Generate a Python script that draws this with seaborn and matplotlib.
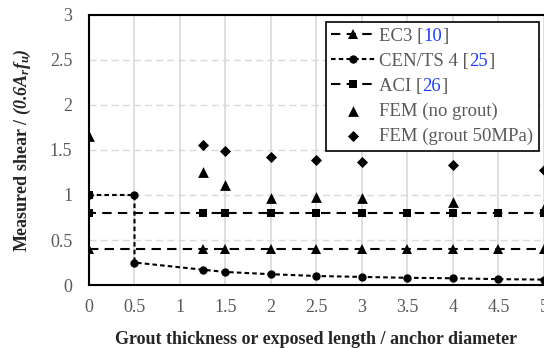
import numpy as np
import pandas as pd
import matplotlib.pyplot as plt
import seaborn as sns

# design values (normalised shear) vs grout thickness / anchor diameter
ec3_x = [0, 1.25, 1.5, 2, 2.5, 3, 3.5, 4, 4.5, 5]
ec3_y = [0.4, 0.4, 0.4, 0.4, 0.4, 0.4, 0.4, 0.4, 0.4, 0.4]

cen_x = [0, 0.5, 0.5, 1.25, 1.5, 2, 2.5, 3, 3.5, 4, 4.5, 5]
cen_y = [1.0, 1.0, 0.25, 0.17, 0.145, 0.12, 0.10, 0.09, 0.08, 0.075, 0.065, 0.06]

aci_x = [0, 0, 1.25, 1.5, 2, 2.5, 3, 3.5, 4, 4.5, 5]
aci_y = [1.0, 0.8, 0.8, 0.8, 0.8, 0.8, 0.8, 0.8, 0.8, 0.8, 0.8]

# FEM results
fem_x = [0, 1.25, 1.5, 2, 2.5, 3, 4, 5]
fem_y = [1.65, 1.26, 1.11, 0.97, 0.98, 0.97, 0.92, 0.85]

grout_x = [1.25, 1.5, 2, 2.5, 3, 4, 5]
grout_y = [1.55, 1.49, 1.42, 1.39, 1.37, 1.33, 1.28]

labels = ["EC3 [", "CEN/TS 4 [", "ACI [", "FEM (no grout)", "FEM (grout 50MPa)"]
refs = ["10", "25", "26"]

sns.set_style("white")
plt.rcParams['font.family'] = ['Liberation Serif', 'DejaVu Serif']
plt.rcParams['mathtext.fontset'] = 'custom'
plt.rcParams['mathtext.rm'] = 'Liberation Serif:bold:italic'
plt.rcParams['mathtext.it'] = 'Liberation Serif:bold:italic'
plt.rcParams['mathtext.bf'] = 'Liberation Serif:bold:italic'

fig = plt.figure(figsize=(5.44, 3.48), dpi=100)
ax = fig.add_axes([0.1636, 0.181, 0.8364, 0.776])

grey = '#595959'
long_dash = (0, (4.5, 3))
short_dash = (0, (2.2, 1.5))

sns.lineplot(x=cen_x, y=cen_y, sort=False, estimator=None, ax=ax, color='black',
             linestyle=short_dash, linewidth=1.5, marker='o', markersize=6,
             markeredgewidth=0, label=labels[1], zorder=3)
sns.lineplot(x=ec3_x, y=ec3_y, sort=False, estimator=None, ax=ax, color='black',
             linestyle=long_dash, linewidth=1.5, marker='^', markersize=7,
             markeredgewidth=0, label=labels[0], zorder=3)
sns.lineplot(x=aci_x, y=aci_y, sort=False, estimator=None, ax=ax, color='black',
             linestyle=long_dash, linewidth=1.5, marker='s', markersize=6,
             markeredgewidth=0, label=labels[2], zorder=3)
sns.scatterplot(x=fem_x, y=fem_y, ax=ax, color='black', marker='^', s=60,
                linewidth=0, label=labels[3], zorder=4)
sns.scatterplot(x=grout_x, y=grout_y, ax=ax, color='black', marker='D', s=32,
                linewidth=0, label=labels[4], zorder=4)

ax.set_xlim(0, 5)
ax.set_ylim(0, 3)
ax.set_xticks(np.arange(0, 5.01, 0.5))
ax.set_yticks(np.arange(0, 3.01, 0.5))
ax.set_xticklabels(['0', '0.5', '1', '1.5', '2', '2.5', '3', '3.5', '4', '4.5', '5'])
ax.set_yticklabels(['0', '0.5', '1', '1.5', '2', '2.5', '3'])
ax.tick_params(axis='both', length=0, labelsize=13, colors=grey)
ax.tick_params(axis='y', pad=12)
ax.tick_params(axis='x', pad=10)

ax.xaxis.grid(True, color='#d9d9d9', linewidth=1.2, linestyle='-')
ax.yaxis.grid(True, color='#d9d9d9', linewidth=1.0, linestyle=(0, (5, 3)))
ax.set_axisbelow(True)

for side in ['left', 'bottom', 'top']:
    ax.spines[side].set_color('black')
    ax.spines[side].set_linewidth(1.5)
ax.spines['right'].set_visible(False)

ax.set_xlabel("Grout thickness or exposed length / anchor diameter",
              fontsize=13, fontweight='bold', labelpad=11)
ax.set_ylabel(r"Measured shear / $(0.6A_rf_u)$", fontsize=13, fontweight='bold',
              labelpad=12)

# legend in the order of the original
handles, labs = ax.get_legend_handles_labels()
order = [labs.index(l) for l in labels]
leg = ax.legend([handles[i] for i in order], [labs[i] for i in order],
                loc='upper right', bbox_to_anchor=(539 / 544, 1 - 22 / 348),
                bbox_transform=fig.transFigure, fontsize=13.5, frameon=True,
                fancybox=False, framealpha=1, edgecolor='black',
                handlelength=2.3, handletextpad=0.25, labelspacing=0.42,
                borderpad=0.3, borderaxespad=0)
leg.get_frame().set_linewidth(1.2)
for t in leg.get_texts():
    t.set_color(grey)

# blue reference numbers after the first three labels
texts = leg.get_texts()
for t, r in zip(texts[:3], refs):
    num = ax.annotate(r, xy=(1, 0), xycoords=t, va='bottom', ha='left',
                      fontsize=13.5, color='#1f3fff', zorder=10)
    ax.annotate("]", xy=(1, 0), xycoords=num, va='bottom', ha='left',
                fontsize=13.5, color=grey, zorder=10)

fig.savefig("out.png", dpi=100)
